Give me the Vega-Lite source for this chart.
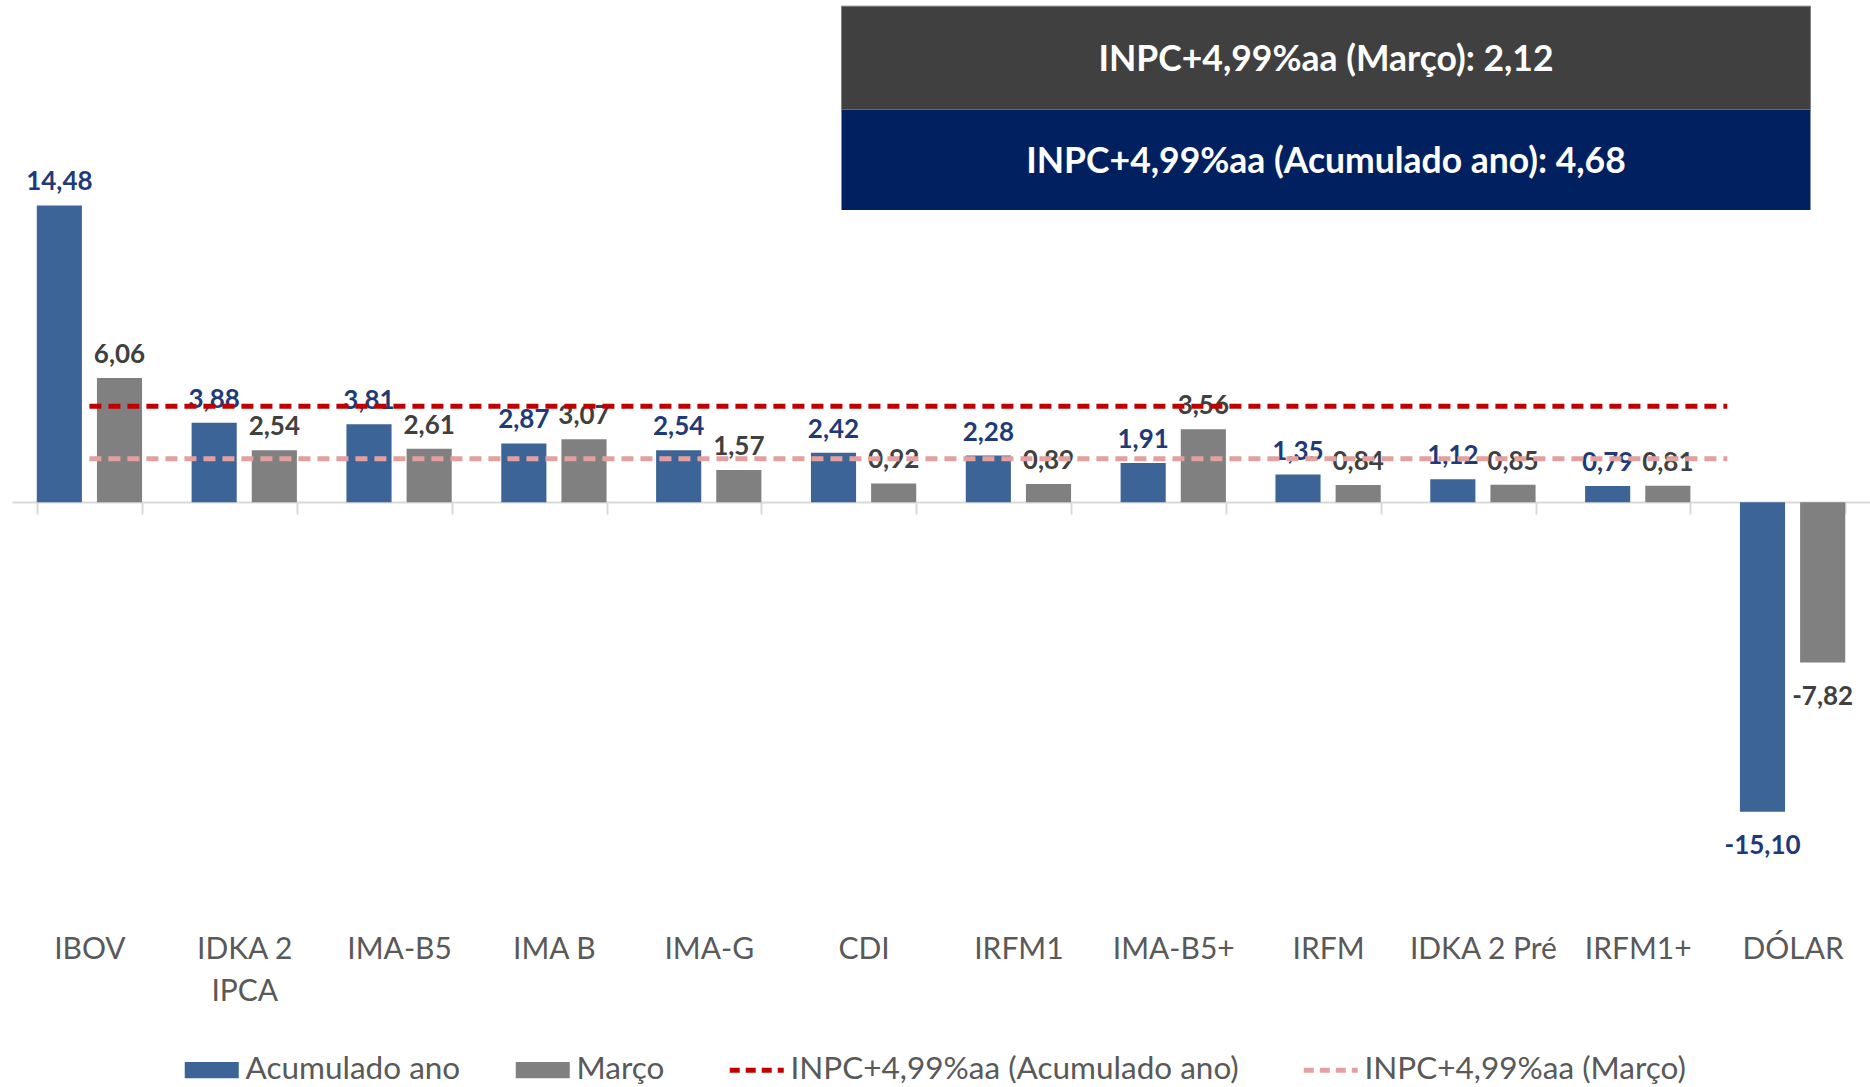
{
  "$schema": "https://vega.github.io/schema/vega-lite/v6.json",
  "width": 1858,
  "height": 859,
  "autosize": {"type": "none"},
  "padding": {"left": 12, "top": 0, "right": 0, "bottom": 228},
  "config": {
    "view": {"stroke": null},
    "font": "Lato",
    "legend": {"layout": {"bottom": {"anchor": "middle"}}},
    "locale": {"number": {"decimal": ",", "thousands": ".", "grouping": [3], "currency": ["R$", ""], "minus": "-"}}
  },
  "datasets": {
    "retornos": [
      {"indice": "IBOV", "serie": "Acumulado ano", "valor": 14.48},
      {"indice": "IBOV", "serie": "Março", "valor": 6.06},
      {"indice": "IDKA 2 IPCA", "serie": "Acumulado ano", "valor": 3.88},
      {"indice": "IDKA 2 IPCA", "serie": "Março", "valor": 2.54},
      {"indice": "IMA-B5", "serie": "Acumulado ano", "valor": 3.81},
      {"indice": "IMA-B5", "serie": "Março", "valor": 2.61},
      {"indice": "IMA B", "serie": "Acumulado ano", "valor": 2.87},
      {"indice": "IMA B", "serie": "Março", "valor": 3.07},
      {"indice": "IMA-G", "serie": "Acumulado ano", "valor": 2.54},
      {"indice": "IMA-G", "serie": "Março", "valor": 1.57},
      {"indice": "CDI", "serie": "Acumulado ano", "valor": 2.42},
      {"indice": "CDI", "serie": "Março", "valor": 0.92},
      {"indice": "IRFM1", "serie": "Acumulado ano", "valor": 2.28},
      {"indice": "IRFM1", "serie": "Março", "valor": 0.89},
      {"indice": "IMA-B5+", "serie": "Acumulado ano", "valor": 1.91},
      {"indice": "IMA-B5+", "serie": "Março", "valor": 3.56},
      {"indice": "IRFM", "serie": "Acumulado ano", "valor": 1.35},
      {"indice": "IRFM", "serie": "Março", "valor": 0.84},
      {"indice": "IDKA 2 Pré", "serie": "Acumulado ano", "valor": 1.12},
      {"indice": "IDKA 2 Pré", "serie": "Março", "valor": 0.85},
      {"indice": "IRFM1+", "serie": "Acumulado ano", "valor": 0.79},
      {"indice": "IRFM1+", "serie": "Março", "valor": 0.81},
      {"indice": "DÓLAR", "serie": "Acumulado ano", "valor": -15.10},
      {"indice": "DÓLAR", "serie": "Março", "valor": -7.82}
    ],
    "referencias": [
      {"serie": "INPC+4,99%aa (Acumulado ano)", "valor": 4.68},
      {"serie": "INPC+4,99%aa (Março)", "valor": 2.12}
    ]
  },
  "data": {"name": "retornos"},
  "layer": [
    {
      "mark": {"type": "bar"},
      "encoding": {
        "x": {
          "field": "indice", "type": "nominal",
          "scale": {
            "domain": ["IBOV", "IDKA 2 IPCA", "IMA-B5", "IMA B", "IMA-G", "CDI", "IRFM1", "IMA-B5+", "IRFM", "IDKA 2 Pré", "IRFM1+", "DÓLAR"],
            "paddingInner": 0.32, "paddingOuter": 0.16
          },
          "axis": {
            "title": null, "orient": "bottom", "offset": -357,
            "domainColor": "#d9d9d9", "domainWidth": 2,
            "tickColor": "#d9d9d9", "tickWidth": 2, "tickSize": 12, "tickBand": "extent",
            "labelAngle": 0, "labelFont": "Lato", "labelFontSize": 30, "labelColor": "#595959",
            "labelPadding": 420, "labelLineHeight": 42, "labelOverlap": false, "labelLimit": 300,
            "labelExpr": "datum.label == 'IDKA 2 IPCA' ? ['IDKA 2', 'IPCA'] : datum.label"
          }
        },
        "xOffset": {"field": "serie", "type": "nominal", "sort": ["Acumulado ano", "Março"], "scale": {"paddingInner": 0.25}},
        "y": {"field": "valor", "type": "quantitative", "scale": {"domain": [-17.4, 24.5], "nice": false}, "axis": null},
        "color": {
          "field": "serie", "type": "nominal",
          "scale": {
            "domain": ["Acumulado ano", "Março", "INPC+4,99%aa (Acumulado ano)", "INPC+4,99%aa (Março)"],
            "range": ["#3c6496", "#808080", "#c00000", "#e3a0a0"]
          },
          "legend": {
            "title": null, "orient": "bottom", "direction": "horizontal", "offset": 48,
            "labelFont": "Lato", "labelFontSize": 31.5, "labelColor": "#595959", "labelLimit": 700,
            "symbolSize": 2916, "columnPadding": 54, "labelOffset": 18,
            "encode": {
              "symbols": {
                "update": {
                  "shape": {"signal": "indexof(['Acumulado ano','Março'], datum.value) >= 0 ? 'M-1,-0.3H1V0.3H-1Z' : 'M-1,0H1'"},
                  "fill": {"signal": "indexof(['Acumulado ano','Março'], datum.value) >= 0 ? scale('color', datum.value) : 'transparent'"},
                  "stroke": {"signal": "scale('color', datum.value)"},
                  "strokeWidth": {"signal": "indexof(['Acumulado ano','Março'], datum.value) >= 0 ? 0 : 5"},
                  "strokeDash": {"signal": "indexof(['Acumulado ano','Março'], datum.value) >= 0 ? [1, 0] : [10, 6]"},
                  "opacity": {"value": 1}
                }
              }
            }
          }
        }
      }
    },
    {
      "transform": [{"filter": "datum.valor >= 0"}],
      "mark": {"type": "text", "fontSize": 26, "fontWeight": "bold", "baseline": "alphabetic", "dy": -15},
      "encoding": {
        "x": {"field": "indice", "type": "nominal"},
        "xOffset": {"field": "serie", "type": "nominal"},
        "y": {"field": "valor", "type": "quantitative"},
        "text": {"field": "valor", "type": "quantitative", "format": ".2f"},
        "fill": {"field": "serie", "type": "nominal", "scale": {"domain": ["Acumulado ano", "Março"], "range": ["#1f3a78", "#404040"]}, "legend": null}
      }
    },
    {
      "transform": [{"filter": "datum.valor < 0"}],
      "mark": {"type": "text", "fontSize": 26, "fontWeight": "bold", "baseline": "top", "dy": 21},
      "encoding": {
        "x": {"field": "indice", "type": "nominal"},
        "xOffset": {"field": "serie", "type": "nominal"},
        "y": {"field": "valor", "type": "quantitative"},
        "text": {"field": "valor", "type": "quantitative", "format": ".2f"},
        "fill": {"field": "serie", "type": "nominal", "legend": null}
      }
    },
    {
      "data": {"name": "referencias"},
      "mark": {"type": "rule", "strokeWidth": 5, "strokeDash": [12, 7]},
      "encoding": {
        "x": {"datum": "IBOV", "bandPosition": 0.5},
        "x2": {"datum": "IRFM1+", "bandPosition": 1.35},
        "y": {"field": "valor", "type": "quantitative"},
        "color": {"field": "serie", "type": "nominal"}
      }
    },
    {
      "data": {"values": [{"texto": "INPC+4,99%aa (Março):  2,12"}]},
      "mark": {"type": "rect", "color": "#404040", "stroke": "#7f7f7f", "strokeWidth": 1},
      "encoding": {
        "x": {"datum": "CDI", "bandPosition": 0.29},
        "x2": {"datum": "DÓLAR", "bandPosition": 0.67},
        "y": {"datum": 24.2, "type": "quantitative"},
        "y2": {"datum": 19.14}
      }
    },
    {
      "data": {"values": [{"texto": "INPC+4,99%aa (Acumulado ano): 4,68"}]},
      "mark": {"type": "rect", "color": "#002060"},
      "encoding": {
        "x": {"datum": "CDI", "bandPosition": 0.29},
        "x2": {"datum": "DÓLAR", "bandPosition": 0.67},
        "y": {"datum": 19.14, "type": "quantitative"},
        "y2": {"datum": 14.26}
      }
    },
    {
      "data": {"values": [{"texto": "INPC+4,99%aa (Março):  2,12"}]},
      "mark": {"type": "text", "fontSize": 35.5, "fontWeight": "bold", "color": "white", "baseline": "middle"},
      "encoding": {
        "x": {"datum": "IRFM", "bandPosition": 0.48},
        "y": {"datum": 21.57, "type": "quantitative"},
        "text": {"field": "texto"}
      }
    },
    {
      "data": {"values": [{"texto": "INPC+4,99%aa (Acumulado ano): 4,68"}]},
      "mark": {"type": "text", "fontSize": 35.5, "fontWeight": "bold", "color": "white", "baseline": "middle"},
      "encoding": {
        "x": {"datum": "IRFM", "bandPosition": 0.48},
        "y": {"datum": 16.6, "type": "quantitative"},
        "text": {"field": "texto"}
      }
    }
  ]
}
